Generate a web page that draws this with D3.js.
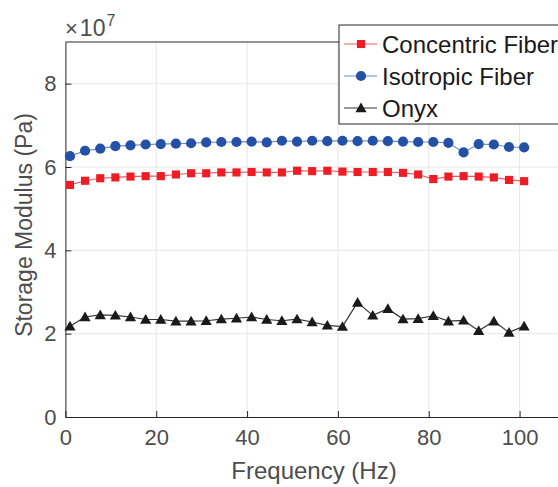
<!DOCTYPE html>
<html>
<head>
<meta charset="utf-8">
<script src="https://cdn.jsdelivr.net/npm/d3@7"></script>
<style>
  body { margin: 0; background: #fff; }
  text { font-family: "Liberation Sans", Arial, sans-serif; }
</style>
</head>
<body>
<div id="chart"></div>
<script>
// frequency (Hz)
const freq = [1, 4.33, 7.67, 11, 14.33, 17.67, 21, 24.33, 27.67, 31, 34.33, 37.67, 41, 44.33, 47.67, 51,
  54.33, 57.67, 61, 64.33, 67.67, 71, 74.33, 77.67, 81, 84.33, 87.67, 91, 94.33, 97.67, 101];
// storage modulus, units of 1e7 Pa
const concentric = [5.57, 5.67, 5.73, 5.75, 5.77, 5.78, 5.78, 5.82, 5.85, 5.85, 5.87, 5.87, 5.88, 5.87, 5.87, 5.91,
  5.90, 5.91, 5.89, 5.88, 5.88, 5.88, 5.86, 5.82, 5.71, 5.77, 5.78, 5.77, 5.75, 5.69, 5.66];
const isotropic = [6.26, 6.39, 6.44, 6.50, 6.52, 6.54, 6.55, 6.56, 6.57, 6.59, 6.60, 6.60, 6.61, 6.59, 6.63, 6.61,
  6.63, 6.62, 6.63, 6.62, 6.63, 6.62, 6.61, 6.60, 6.60, 6.58, 6.35, 6.55, 6.54, 6.48, 6.47];
const onyx = [2.18, 2.40, 2.45, 2.44, 2.40, 2.34, 2.34, 2.30, 2.30, 2.31, 2.35, 2.37, 2.40, 2.34, 2.31, 2.35,
  2.28, 2.20, 2.17, 2.75, 2.44, 2.60, 2.35, 2.36, 2.43, 2.30, 2.32, 2.07, 2.30, 2.03, 2.18];
const xTicks = [0, 20, 40, 60, 80, 100];
const yTicks = [0, 2, 4, 6, 8];

const series = [
  { name: 'Concentric Fiber', values: concentric, color: '#ee1c25', line: '#f05a60', marker: 'square' },
  { name: 'Isotropic Fiber', values: isotropic, color: '#2451a6', line: '#6a8ac8', marker: 'circle' },
  { name: 'Onyx', values: onyx, color: '#1a1a1a', line: '#333333', marker: 'triangle' },
];

const width = 558, height = 487;
const margin = { top: 42, left: 65.4, bottom: 70, right: -7 };
const iw = width - margin.left - margin.right;
const ih = height - margin.top - margin.bottom;

const svg = d3.select('#chart').append('svg')
  .attr('width', width)
  .attr('height', height);

const x = d3.scaleLinear().domain([0, 110]).range([0, iw]);
const y = d3.scaleLinear().domain([0, 9]).range([ih, 0]);

const g = svg.append('g').attr('transform', `translate(${margin.left},${margin.top})`);

// grid
g.append('g').selectAll('line').data(xTicks.slice(1))
  .join('line')
  .attr('x1', d => x(d)).attr('x2', d => x(d))
  .attr('y1', 0).attr('y2', ih)
  .attr('stroke', '#e6e6e6').attr('stroke-width', 1);
g.append('g').selectAll('line').data(yTicks.slice(1))
  .join('line')
  .attr('x1', 0).attr('x2', iw)
  .attr('y1', d => y(d)).attr('y2', d => y(d))
  .attr('stroke', '#e6e6e6').attr('stroke-width', 1);

// axes (ticks inward, like matlab)
const axColor = '#4d4d4d';
const xAxis = g.append('g').attr('transform', `translate(0,${ih})`)
  .call(d3.axisBottom(x).tickValues(xTicks).tickSizeInner(-6).tickSizeOuter(0).tickPadding(12));
const yAxis = g.append('g')
  .call(d3.axisLeft(y).tickValues(yTicks).tickSizeInner(-6).tickSizeOuter(0).tickPadding(9));
[xAxis, yAxis].forEach(a => {
  a.select('.domain').attr('stroke', '#262626');
  a.selectAll('.tick line').attr('stroke', '#262626');
  a.selectAll('.tick text').attr('fill', axColor).style('font-size', '22px')
    .style('font-family', '"Liberation Sans", Arial, sans-serif');
});
// top box edge
g.append('line').attr('x1', 0).attr('x2', iw).attr('y1', 0).attr('y2', 0)
  .attr('stroke', '#262626');

const sq = d3.symbol().type(d3.symbolSquare).size(66);
const ci = d3.symbol().type(d3.symbolCircle).size(82);
const tri = d3.symbol().type(d3.symbolTriangle).size(54);
const symFor = m => (m === 'square' ? sq : m === 'circle' ? ci : tri);

const line = d3.line().x((d, i) => x(freq[i])).y(d => y(d));

series.forEach(s => {
  g.append('path').datum(s.values)
    .attr('d', line)
    .attr('fill', 'none')
    .attr('stroke', s.line)
    .attr('stroke-width', 1.2);
  g.append('g').selectAll('path').data(s.values)
    .join('path')
    .attr('d', symFor(s.marker)())
    .attr('transform', (d, i) => `translate(${x(freq[i])},${y(d) + (s.marker === 'triangle' ? 1 : 0)})`)
    .attr('fill', s.color);
});

// exponent label
const expo = svg.append('text').attr('x', 65).attr('y', 36).attr('fill', axColor).style('font-size', '23px');
expo.append('tspan').text('\u00d7').style('font-size', '22px');
expo.append('tspan').text('10').attr('dx', 2);
expo.append('tspan').text('7').attr('dy', -10).attr('dx', 1).style('font-size', '16px');

// axis labels
svg.append('text')
  .attr('x', 314).attr('y', 479)
  .attr('text-anchor', 'middle').attr('fill', axColor).style('font-size', '24px')
  .text('Frequency (Hz)');
svg.append('text')
  .attr('transform', `translate(32,225) rotate(-90)`)
  .attr('text-anchor', 'middle').attr('fill', axColor).style('font-size', '23px')
  .text('Storage Modulus (Pa)');

// legend
const lg = svg.append('g').attr('transform', 'translate(339,25)');
lg.append('rect').attr('x', 0).attr('y', 0).attr('width', 240).attr('height', 99)
  .attr('fill', '#fff').attr('stroke', '#262626').attr('stroke-width', 1);
series.forEach((s, i) => {
  const yy = 19 + i * 32;
  lg.append('line').attr('x1', 5).attr('x2', 38).attr('y1', yy).attr('y2', yy)
    .attr('stroke', s.line).attr('stroke-width', 1.2);
  lg.append('path').attr('d', symFor(s.marker)())
    .attr('transform', `translate(22,${yy + (s.marker === 'triangle' ? 1 : 0)})`)
    .attr('fill', s.color);
  lg.append('text').attr('x', 43).attr('y', yy + 8.5)
    .attr('fill', '#1a1a1a').style('font-size', '24px')
    .text(s.name);
});
</script>
</body>
</html>
